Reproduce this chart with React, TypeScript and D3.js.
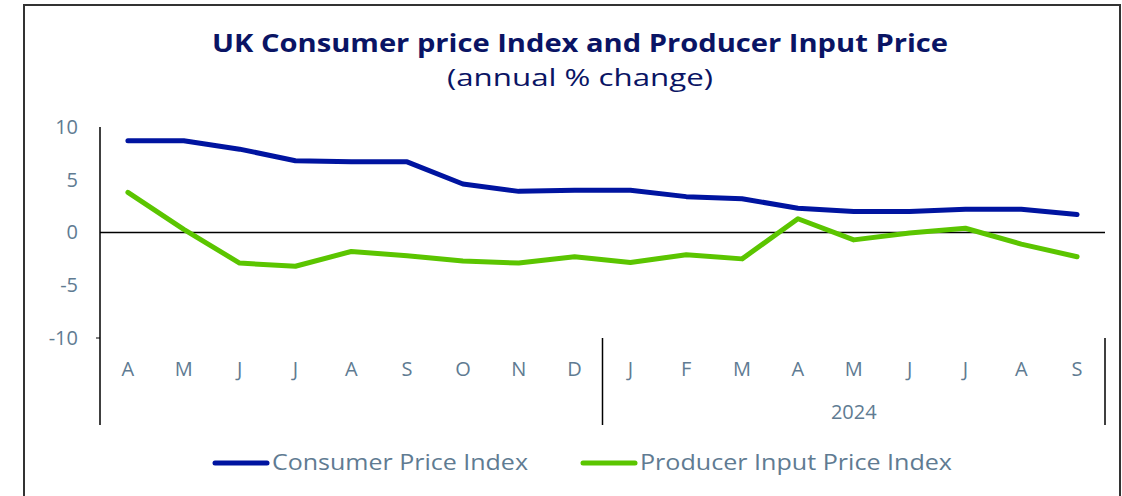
import { useEffect, useRef } from 'react'
import { axisLeft, line, scaleBand, scaleLinear, select } from 'd3'

const months = ['A', 'M', 'J', 'J', 'A', 'S', 'O', 'N', 'D', 'J', 'F', 'M', 'A', 'M', 'J', 'J', 'A', 'S']
const yearGroups = [
  { label: '', start: 0, end: 9 },
  { label: '2024', start: 9, end: 18 },
]
const cpi = [8.7, 8.7, 7.9, 6.8, 6.7, 6.7, 4.6, 3.9, 4.0, 4.0, 3.4, 3.2, 2.3, 2.0, 2.0, 2.2, 2.2, 1.7]
const ppiInput = [3.8, 0.3, -2.9, -3.2, -1.8, -2.2, -2.7, -2.9, -2.3, -2.85, -2.1, -2.5, 1.3, -0.7, -0.05, 0.4, -1.1, -2.3]
const yTicks = [10, 5, 0, -5, -10]

const series = [
  { name: 'Consumer Price Index', values: cpi, color: '#0014a0', legendX: 215, textWidth: 256 },
  { name: 'Producer Input Price Index', values: ppiInput, color: '#5bc500', legendX: 583, textWidth: 312 },
]

const plot = { left: 100, right: 1105, top: 127, bottom: 338, axisBottom: 425 }
const font = "'Open Sans', 'Liberation Sans', Arial, sans-serif"
const labelColor = '#607b92'

export default function App() {
  const yAxisRef = useRef<SVGGElement>(null)

  const xScale = scaleBand<number>()
    .domain(months.map((_, i) => i))
    .range([plot.left, plot.right])

  const yScale = scaleLinear().domain([-10, 10]).range([plot.bottom, plot.top])

  const lineGen = line<number>()
    .x((_, i) => (xScale(i) ?? 0) + xScale.bandwidth() / 2)
    .y((d) => yScale(d))

  useEffect(() => {
    if (!yAxisRef.current) return
    const g = select(yAxisRef.current)
    g.call(
      axisLeft(yScale)
        .tickValues(yTicks)
        .tickSize(0)
        .tickPadding(22)
        .tickFormat((v) => String(v)),
    )
    g.select('.domain').remove()
    g.selectAll('text')
      .attr('font-family', font)
      .attr('font-size', 20)
      .attr('fill', labelColor)
  }, [yScale])

  const step = xScale.step()

  return (
    <svg width={1122} height={496} style={{ position: 'absolute', left: 0, top: 0, background: '#fff' }}>
      <rect x={24} y={5} width={1096} height={500} fill="#fff" stroke="#333" strokeWidth={2} />

      <text
        x={580}
        y={52}
        textAnchor="middle"
        fontFamily={font}
        fontWeight="bold"
        fontSize={25}
        fill="#0a1464"
        textLength={736}
        lengthAdjust="spacingAndGlyphs"
      >
        UK Consumer price Index and Producer Input Price
      </text>
      <text
        x={580}
        y={86}
        textAnchor="middle"
        fontFamily={font}
        fontSize={24}
        fill="#0a1464"
        textLength={266}
        lengthAdjust="spacingAndGlyphs"
      >
        (annual % change)
      </text>

      <g ref={yAxisRef} transform={`translate(${plot.left},0)`} />

      {/* axis lines */}
      <line x1={plot.left} x2={plot.left} y1={plot.top} y2={plot.axisBottom} stroke="#000" strokeWidth={1.5} />
      <line x1={plot.left - 4} x2={plot.left} y1={plot.bottom} y2={plot.bottom} stroke="#000" strokeWidth={1} />
      <line x1={plot.left} x2={plot.right} y1={yScale(0)} y2={yScale(0)} stroke="#000" strokeWidth={1.5} />
      {yearGroups.map((g) => (
        <line
          key={g.end}
          x1={plot.left + g.end * step}
          x2={plot.left + g.end * step}
          y1={plot.bottom}
          y2={plot.axisBottom}
          stroke="#000"
          strokeWidth={1.5}
        />
      ))}

      {months.map((m, i) => (
        <text
          key={i}
          x={(xScale(i) ?? 0) + xScale.bandwidth() / 2}
          y={376}
          textAnchor="middle"
          fontFamily={font}
          fontSize={20}
          fill={labelColor}
        >
          {m}
        </text>
      ))}
      {yearGroups.map((g) => (
        <text
          key={g.start}
          x={plot.left + ((g.start + g.end) / 2) * step}
          y={419}
          textAnchor="middle"
          fontFamily={font}
          fontSize={20}
          fill={labelColor}
        >
          {g.label}
        </text>
      ))}

      {series.map((s) => (
        <path
          key={s.name}
          d={lineGen(s.values) ?? ''}
          fill="none"
          stroke={s.color}
          strokeWidth={5}
          strokeLinecap="round"
          strokeLinejoin="round"
        />
      ))}

      {/* legend */}
      {series.map((s) => (
        <g key={s.name}>
          <line
            x1={s.legendX}
            x2={s.legendX + 52}
            y1={463}
            y2={463}
            stroke={s.color}
            strokeWidth={5}
            strokeLinecap="round"
          />
          <text
            x={s.legendX + 57}
            y={470}
            fontFamily={font}
            fontSize={21}
            fill={labelColor}
            textLength={s.textWidth}
            lengthAdjust="spacingAndGlyphs"
          >
            {s.name}
          </text>
        </g>
      ))}
    </svg>
  )
}
